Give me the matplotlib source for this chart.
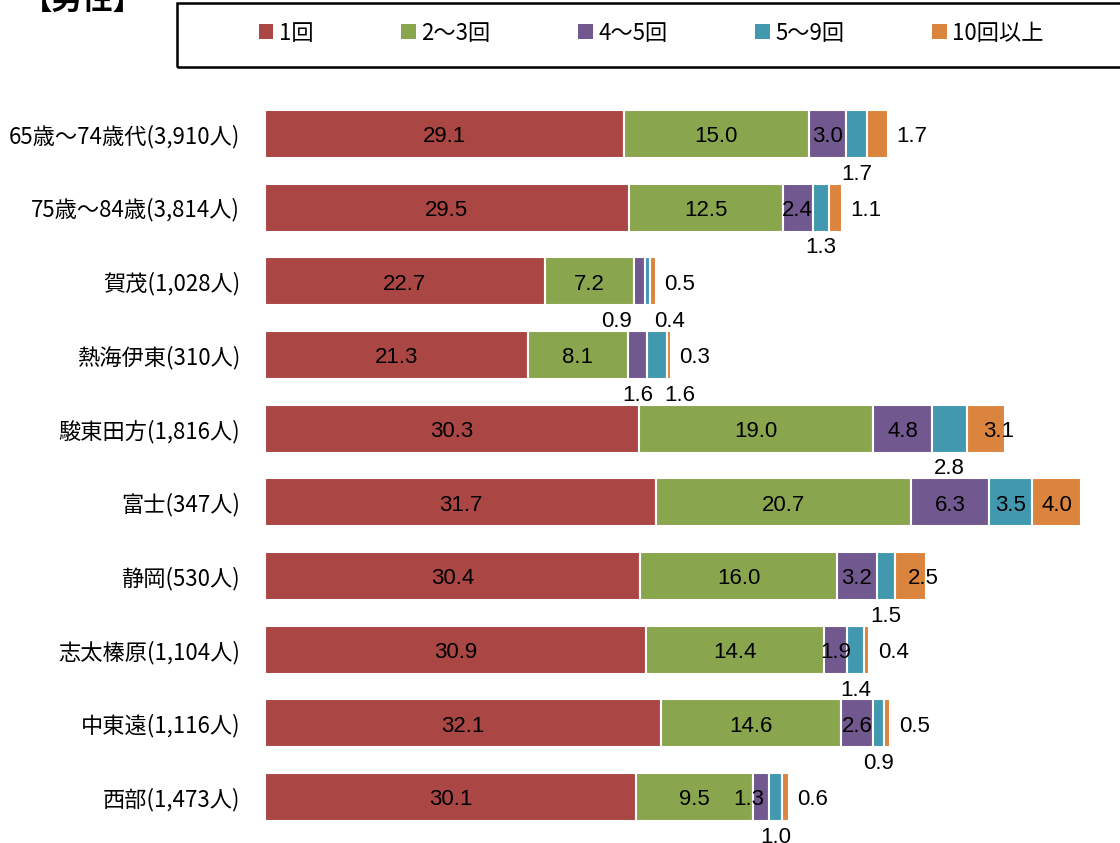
import matplotlib.pyplot as plt
from matplotlib.patches import Rectangle, Patch
import numpy as np

plt.rcParams['font.family'] = ['Noto Sans CJK JP', 'DejaVu Sans']

# data
categories = ['65歳～74歳代(3,910人)', '75歳～84歳(3,814人)', '賀茂(1,028人)',
              '熱海伊東(310人)', '駿東田方(1,816人)', '富士(347人)', '静岡(530人)',
              '志太榛原(1,104人)', '中東遠(1,116人)', '西部(1,473人)']
series_names = ['1回', '2～3回', '4～5回', '5～9回', '10回以上']
once = [29.1, 29.5, 22.7, 21.3, 30.3, 31.7, 30.4, 30.9, 32.1, 30.1]
two_three = [15.0, 12.5, 7.2, 8.1, 19.0, 20.7, 16.0, 14.4, 14.6, 9.5]
four_five = [3.0, 2.4, 0.9, 1.6, 4.8, 6.3, 3.2, 1.9, 2.6, 1.3]
five_nine = [1.7, 1.3, 0.4, 1.6, 2.8, 3.5, 1.5, 1.4, 0.9, 1.0]
ten_plus = [1.7, 1.1, 0.5, 0.3, 3.1, 4.0, 2.5, 0.4, 0.5, 0.6]

# label placement per series (c=center, b=below, r=right of bar end, l/r suffix = nudge)
modes_four_five = ['c', 'c', 'bl', 'b', 'c', 'c', 'c', 'c', 'c', 'cl']
modes_five_nine = ['b', 'b', 'br', 'br', 'b', 'c', 'b', 'b', 'b', 'b']
modes_ten_plus = ['r', 'r', 'r', 'r', 'cr', 'c', 'cr', 'r', 'r', 'r']

colors = ['#AA4643', '#89A54E', '#71588F', '#4198AF', '#DB843D']

series = [once, two_three, four_five, five_nine, ten_plus]
modes = [['c'] * 10, ['c'] * 10, modes_four_five, modes_five_nine, modes_ten_plus]

fig = plt.figure(figsize=(11.2, 8.43), dpi=100)
ax = fig.add_axes([265 / 1120, 1 - 834 / 843, 851 / 1120, 737 / 843])

y = np.arange(len(categories))
left = np.zeros(len(categories))
num_font = dict(family='Liberation Sans', fontsize=16, color='black')
for vals, col, name, md in zip(series, colors, series_names, modes):
    vals = np.array(vals)
    ax.barh(y, vals, left=left, height=0.65, color=col, edgecolor='white',
            linewidth=1.5, label=name)
    for i, v in enumerate(vals):
        cx = left[i] + v / 2
        m = md[i]
        dx = 0
        if len(m) > 1:
            dx = 9 if m[1] == 'r' else -9
        if m[0] == 'c':
            ax.annotate(f'{v:.1f}', (cx, y[i]), xytext=(dx, -2), textcoords='offset points',
                        ha='center', va='center', **num_font)
        elif m[0] == 'b':
            ax.annotate(f'{v:.1f}', (cx, y[i]), xytext=(dx * 1.8, -29), textcoords='offset points',
                        ha='center', va='center', **num_font)
        else:
            ax.annotate(f'{v:.1f}', (left[i] + v, y[i]), xytext=(6, -2), textcoords='offset points',
                        ha='left', va='center', **num_font)
    left = left + vals

ax.set_xlim(0, 69)
ax.set_ylim(9.5, -0.5)
ax.set_yticks(y)
ax.set_yticklabels(categories, fontsize=16)
ax.tick_params(axis='y', length=0, pad=18)
ax.set_xticks([])
for s in ax.spines.values():
    s.set_visible(False)

# legend with box
fig.patches.append(Rectangle((177 / 1120, 1 - 67 / 843), 960 / 1120, 64 / 843,
                             transform=fig.transFigure, fill=False, edgecolor='black',
                             linewidth=1.8))
handles = [Patch(facecolor=c) for c in colors]
fig.legend(handles, series_names, ncol=5, loc='center left', frameon=False,
           bbox_to_anchor=(259 / 1120, 1 - 33 / 843), borderpad=0, borderaxespad=0,
           fontsize=16, handlelength=0.65, handleheight=0.65, handletextpad=0.25,
           columnspacing=3.95)

fig.text(22 / 1120, 1.0, '【男性】', fontsize=22, fontweight='bold', va='center', ha='left')

fig.savefig('out.png', dpi=100)
